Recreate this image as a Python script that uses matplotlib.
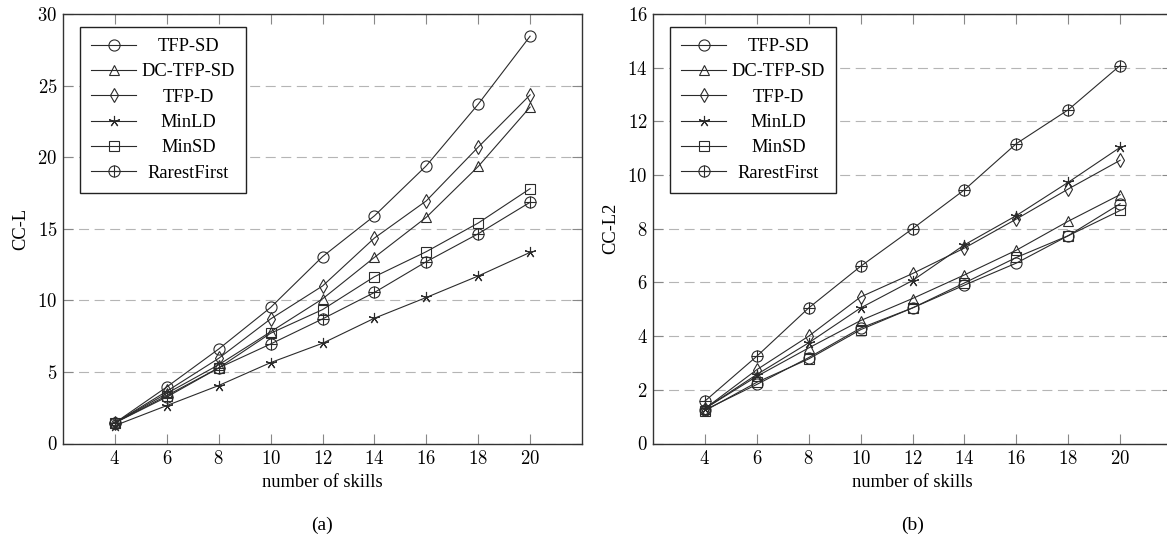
import matplotlib
matplotlib.use("Agg")
import matplotlib.pyplot as plt
from matplotlib.legend_handler import HandlerTuple
from matplotlib.ticker import FuncFormatter

plt.rcParams['font.family'] = ['Liberation Serif', 'DejaVu Serif']
plt.rcParams['mathtext.fontset'] = 'cm'

skills = [4, 6, 8, 10, 12, 14, 16, 18, 20]
names = ['TFP-SD', 'DC-TFP-SD', 'TFP-D', 'MinLD', 'MinSD', 'RarestFirst']

# (a) CC-L
ccl_tfpsd = [1.44, 3.95, 6.6, 9.5, 13.05, 15.9, 19.4, 23.7, 28.45]
ccl_dctfpsd = [1.44, 3.5, 5.5, 7.8, 10.1, 13.0, 15.8, 19.35, 23.5]
ccl_tfpd = [1.44, 3.65, 5.95, 8.7, 11.0, 14.35, 16.95, 20.7, 24.35]
ccl_minld = [1.25, 2.65, 4.05, 5.65, 7.0, 8.75, 10.2, 11.7, 13.35]
ccl_minsd = [1.44, 3.35, 5.28, 7.7, 9.35, 11.65, 13.4, 15.4, 17.8]
ccl_rarest = [1.44, 3.25, 5.28, 6.95, 8.7, 10.55, 12.7, 14.65, 16.85]

# (b) CC-L2
ccl2_tfpsd = [1.25, 2.2, 3.2, 4.3, 5.05, 5.9, 6.72, 7.74, 8.93]
ccl2_dctfpsd = [1.3, 2.5, 3.56, 4.58, 5.4, 6.28, 7.2, 8.28, 9.27]
ccl2_tfpd = [1.3, 2.75, 4.0, 5.46, 6.33, 7.28, 8.36, 9.48, 10.55]
ccl2_minld = [1.3, 2.57, 3.75, 5.05, 6.07, 7.4, 8.49, 9.73, 11.03]
ccl2_minsd = [1.22, 2.28, 3.15, 4.24, 5.05, 5.98, 6.93, 7.74, 8.68]
ccl2_rarest = [1.58, 3.25, 5.05, 6.6, 8.0, 9.45, 11.17, 12.43, 14.08]

line_col = '#2b2b2b'
markers = {'TFP-SD': ('o', 8), 'DC-TFP-SD': ('^', 6.5), 'TFP-D': ('d', 7),
           'MinLD': ((5, 2, 0), 8), 'MinSD': ('s', 7.5)}

fig = plt.figure(figsize=(11.67, 5.39), dpi=100)
W, H = 1167, 539


def draw_panel(left_px, series, ylim, yticks, ylabel, tag):
    ax = fig.add_axes([left_px / W, (H - 443.5) / H, 519 / W, 429.5 / H])
    handles = []
    for name, vals in zip(names, series):
        if name == 'RarestFirst':
            l1, = ax.plot(skills, vals, color=line_col, lw=0.8, marker='o', ms=8,
                          mfc='none', mec=line_col, mew=0.8)
            l2, = ax.plot(skills, vals, ls='none', marker='+', ms=8,
                          mec=line_col, mew=0.8)
            handles.append((l1, l2))
        else:
            m, ms = markers[name]
            l1, = ax.plot(skills, vals, color=line_col, lw=0.8, marker=m, ms=ms,
                          mfc='none', mec=line_col, mew=0.8)
            handles.append(l1)
    ax.set_xlim(2, 22)
    ax.set_ylim(*ylim)
    ax.set_xticks(skills)
    ax.set_yticks(yticks)
    fmt = FuncFormatter(lambda v, p: '$%d$' % v)
    ax.xaxis.set_major_formatter(fmt)
    ax.yaxis.set_major_formatter(fmt)
    ax.tick_params(direction='in', length=7.5, width=0.8, color='#888888',
                   top=True, right=True, labelsize=13.5, pad=5)
    ax.tick_params(axis='y', pad=4)
    ax.grid(axis='y', color='#b5b5b5', lw=0.8, linestyle=(0, (9, 5)))
    ax.set_axisbelow(True)
    for s in ax.spines.values():
        s.set_linewidth(1.0)
        s.set_color('#333333')
    ax.set_xlabel('number of skills', fontsize=13.3, labelpad=4)
    ax.set_ylabel(ylabel, fontsize=13.3, labelpad=6)
    ax.text(0.5, -0.17, tag, transform=ax.transAxes, ha='center', va='top',
            fontsize=14)
    leg = ax.legend(handles, names, loc='upper left',
                    bbox_to_anchor=(17 / 519, 1 - 13 / 429.5), borderaxespad=0,
                    fontsize=13.3, handlelength=2.45, handletextpad=0.3,
                    labelspacing=0.45, borderpad=0.6, fancybox=False,
                    framealpha=1, edgecolor='#222222',
                    handler_map={tuple: HandlerTuple(ndivide=1, pad=0)})
    leg.get_frame().set_linewidth(1.0)
    return leg


leg_a = draw_panel(63, [ccl_tfpsd, ccl_dctfpsd, ccl_tfpd, ccl_minld, ccl_minsd, ccl_rarest],
                   (0, 30), [0, 5, 10, 15, 20, 25, 30], 'CC-L', '(a)')
leg_b = draw_panel(653, [ccl2_tfpsd, ccl2_dctfpsd, ccl2_tfpd, ccl2_minld, ccl2_minsd, ccl2_rarest],
                   (0, 16), [0, 2, 4, 6, 8, 10, 12, 14, 16], 'CC-L2', '(b)')

# centre the legend labels, like the pgfplots legend
fig.canvas.draw()
r = fig.canvas.get_renderer()
for leg in (leg_a, leg_b):
    texts = leg.get_texts()
    widths = [t.get_window_extent(r).width for t in texts]
    wmax = max(widths)
    for t, w in zip(texts, widths):
        t.set_x((wmax - w) / 2)

fig.savefig('out.png', dpi=100)
